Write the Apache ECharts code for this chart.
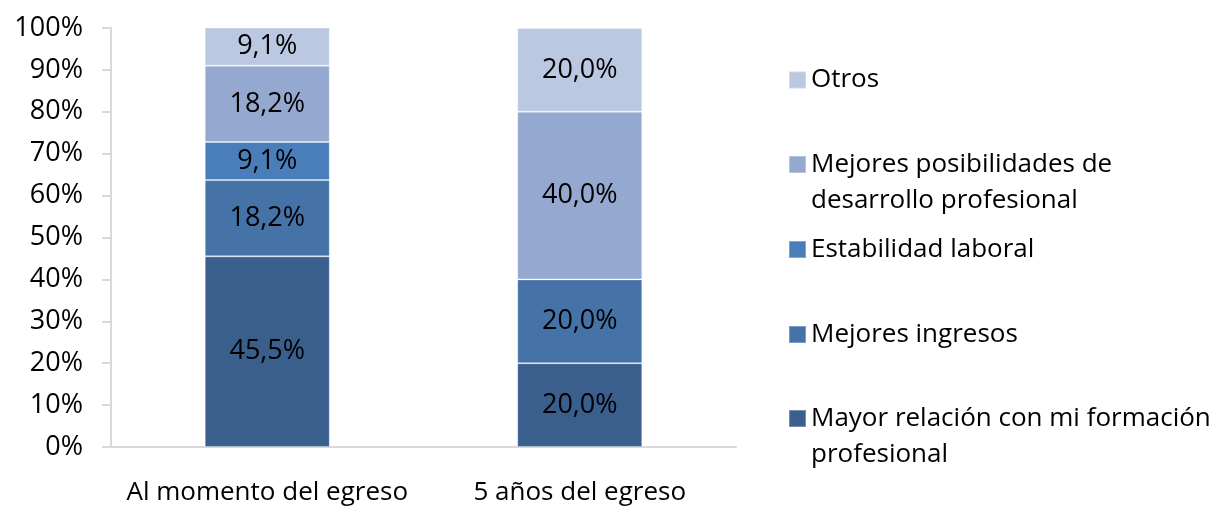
<!DOCTYPE html>
<html>
<head>
<meta charset="utf-8">
<script src="https://cdn.jsdelivr.net/npm/echarts@6/dist/echarts.min.js"></script>
<style>
  html, body { margin: 0; padding: 0; background: #fff; }
  #chart { width: 1222px; height: 508px; }
</style>
</head>
<body>
<div id="chart"></div>
<script>
// categorías del eje x
const categorias = ['Al momento del egreso', '5 años del egreso'];

// series (de abajo hacia arriba)
const nombres = [
  'Mayor relación con mi formación\nprofesional',
  'Mejores ingresos',
  'Estabilidad laboral',
  'Mejores posibilidades de\ndesarrollo profesional',
  'Otros'
];
const mayorRelacion = [45.5, 20.0];
const mejoresIngresos = [18.2, 20.0];
const estabilidad = [9.1, 0];
const mejoresPosibilidades = [18.2, 40.0];
const otros = [9.1, 20.0];
const valores = [mayorRelacion, mejoresIngresos, estabilidad, mejoresPosibilidades, otros];

const colores = ['#3b5f8d', '#4572a7', '#4a7ebb', '#95a9d0', '#bbc8e2'];

// centro vertical del cuadrito de cada elemento de la leyenda
const leyendaCentro = [418.5, 334.5, 249.5, 164.5, 80];

const fuente = '"Open Sans", "Noto Sans", sans-serif';

const series = nombres.map((n, i) => ({
  name: n,
  type: 'bar',
  stack: 'total',
  barWidth: '40%',
  data: valores[i],
  itemStyle: { color: colores[i], borderColor: 'rgba(255,255,255,0.3)', borderWidth: 1 },
  label: {
    show: true,
    position: 'inside',
    color: '#000',
    fontFamily: fuente,
    fontSize: 27,
    formatter: (p) => p.value ? p.value.toFixed(1).replace('.', ',') + '%' : ''
  }
}));

// una leyenda por serie; en las de dos líneas el cuadrito va alineado con la primera
const leyendas = nombres.map((n, i) => {
  const dosLineas = n.indexOf('\n') >= 0;
  return {
    data: [n],
    left: 788,
    top: leyendaCentro[i] - 18,
    padding: 0,
    orient: 'vertical',
    icon: dosLineas ? 'path://M0,0H17V17H0Z M0,52.99H0.01V53H0Z' : 'rect',
    itemWidth: 17,
    itemHeight: dosLineas ? 53 : 17,
    itemGap: 0,
    selectedMode: false,
    textStyle: {
      color: '#000',
      fontFamily: fuente,
      fontSize: 26,
      lineHeight: 36
    }
  };
});

const myChart = echarts.init(document.getElementById('chart'));
myChart.setOption({
  animation: false,
  backgroundColor: '#fff',
  grid: { left: 111, right: 486, top: 28, bottom: 61 },
  legend: leyendas,
  xAxis: {
    type: 'category',
    data: categorias,
    axisLine: { lineStyle: { color: '#d9d9d9', width: 2 } },
    axisTick: { show: false },
    axisLabel: { color: '#000', fontFamily: fuente, fontSize: 26, margin: 33, interval: 0 }
  },
  yAxis: {
    type: 'value',
    min: 0,
    max: 100,
    interval: 10,
    axisLine: { show: true, lineStyle: { color: '#d9d9d9', width: 2 } },
    axisTick: { show: true, length: 9, lineStyle: { color: '#d9d9d9', width: 2 } },
    splitLine: { show: false },
    axisLabel: { color: '#000', fontFamily: fuente, fontSize: 27, margin: 28, formatter: '{value}%' }
  },
  series: series
});
</script>
</body>
</html>
